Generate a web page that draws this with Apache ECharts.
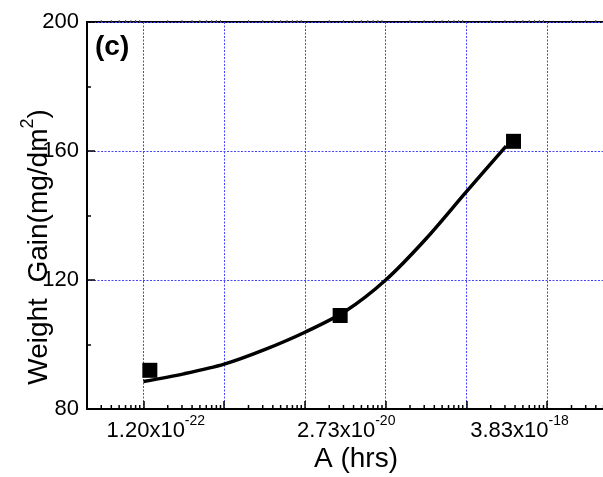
<!DOCTYPE html>
<html>
<head>
<meta charset="utf-8">
<script src="https://cdn.jsdelivr.net/npm/echarts@6/dist/echarts.min.js"></script>
<style>html,body{margin:0;padding:0;background:#fff;}#c{width:603px;height:477px;}</style>
</head>
<body>
<div id="c"></div>
<script>
// Measured points
const pointX = [1.20e-22, 2.73e-20, 3.83e-18];
const pointY = [92, 109, 163];
// Fitted curve
const fitX = [1e-22, 3.16e-22, 1e-21, 3.16e-21, 1e-20, 3.16e-20, 1e-19, 3.16e-19, 1e-18, 3.1e-18];
const fitY = [88.5, 90.9, 93.9, 98.4, 103.8, 110.3, 120, 132.8, 147.4, 161.5];
// X tick labels (placed at the data values)
const xLabelVals = [1.20e-22, 2.73e-20, 3.83e-18];
const xLabelMant = ['1.20', '2.73', '3.83'];
const xLabelExp = ['-22', '-20', '-18'];
// Axis ranges
const xMin = 2e-23, xMax = 5.2e-17;
const yMin = 80, yMax = 200, yStep = 40;
const decades = [-23, -22, -21, -20, -19, -18, -17, -16];
const minorMult = [2, 3, 4, 5, 6, 7, 8, 9];

const minorVals = [];
decades.forEach(d => minorMult.forEach(k => {
  const v = k * Math.pow(10, d);
  if (v > xMin && v < xMax) minorVals.push([v, yMin]);
}));

const FONT = '"Liberation Sans", Arial, sans-serif';
const GRIDC = '#4646ff';
const GRIDDASH = [2, 1.5];
const chart = echarts.init(document.getElementById('c'), null, {renderer: 'canvas'});
chart.setOption({
  animation: false,
  backgroundColor: '#fff',
  grid: {left: 87, top: 22, height: 387, width: 518, outerBoundsMode: 'none', containLabel: false,
    show: true, borderColor: '#000', borderWidth: 2, backgroundColor: 'transparent'},
  xAxis: {
    type: 'log', logBase: 10, min: xMin, max: xMax,
    axisLine: {show: true, lineStyle: {color: '#000', width: 2}},
    axisTick: {show: true, inside: true, length: 8, lineStyle: {color: '#000', width: 1.5}},
    axisLabel: {show: false},
    splitLine: {show: true, lineStyle: {color: GRIDC, width: 1, type: GRIDDASH}},
    minorTick: {show: false}
  },
  yAxis: {
    type: 'value', min: yMin, max: yMax, interval: yStep,
    axisLine: {show: true, lineStyle: {color: '#000', width: 2}},
    axisTick: {show: true, inside: true, length: 8, lineStyle: {color: '#000', width: 1.5}},
    minorTick: {show: true, splitNumber: 2, length: 4, lineStyle: {color: '#000', width: 1.5}},
    axisLabel: {color: '#000', fontSize: 22, fontFamily: FONT, margin: 8},
    splitLine: {show: true, lineStyle: {color: GRIDC, width: 1, type: GRIDDASH}}
  },
  series: [
    {
      type: 'custom', coordinateSystem: 'cartesian2d', silent: true, z: 3,
      data: minorVals,
      renderItem: function (params, api) {
        const p = api.coord([api.value(0), yMin]);
        const q = api.coord([api.value(0), yMax]);
        return {type: 'group', children: [
          {type: 'line', shape: {x1: p[0], y1: p[1], x2: p[0], y2: p[1] - 4}, style: {stroke: '#000', lineWidth: 1.5}},
          {type: 'line', shape: {x1: q[0], y1: q[1], x2: q[0], y2: q[1] - 2}, style: {stroke: '#555', lineWidth: 1}}
        ]};
      }
    },
    {
      type: 'custom', coordinateSystem: 'cartesian2d', silent: true, z: 3,
      data: xLabelVals.map((v, i) => [v, yMin, i]),
      renderItem: function (params, api) {
        const p = api.coord([api.value(0), yMin]);
        const i = api.value(2);
        return {type: 'text', x: p[0] + 6, y: p[1] + 5, style: {
          text: '{m|' + xLabelMant[i] + 'x10}{s|' + xLabelExp[i] + '}',
          align: 'center', verticalAlign: 'top', fill: '#000',
          rich: {
            m: {fontSize: 22, fontFamily: FONT, lineHeight: 28, verticalAlign: 'bottom', fill: '#000'},
            s: {fontSize: 14, fontFamily: FONT, lineHeight: 24, verticalAlign: 'top', fill: '#000'}
          }
        }};
      }
    },
    {
      type: 'line', data: fitX.map((x, i) => [x, fitY[i]]), smooth: 0.3,
      symbol: 'none', lineStyle: {color: '#000', width: 3.5}, z: 4
    },
    {
      type: 'scatter', data: pointX.map((x, i) => [x, pointY[i]]),
      symbol: 'rect', symbolSize: 15, itemStyle: {color: '#000', opacity: 1}, z: 5
    }
  ],
  graphic: [
    {type: 'text', left: 95, top: 33, style: {text: '(c)', font: 'bold 28px ' + FONT, fill: '#000'}},
    {type: 'text', x: 356, y: 459, style: {text: 'A (hrs)', font: '28px ' + FONT, fill: '#000', align: 'center', verticalAlign: 'middle'}},
    {type: 'text', x: 36, y: 247, rotation: Math.PI / 2, style: {
      text: '{m|Weight  Gain(mg/dm}{s|2}{m|)}', align: 'center', verticalAlign: 'middle', fill: '#000',
      rich: {
        m: {fontSize: 28, fontFamily: FONT, lineHeight: 34, verticalAlign: 'bottom', fill: '#000'},
        s: {fontSize: 18, fontFamily: FONT, lineHeight: 28, verticalAlign: 'top', fill: '#000'}
      }
    }}
  ]
});
</script>
</body>
</html>
